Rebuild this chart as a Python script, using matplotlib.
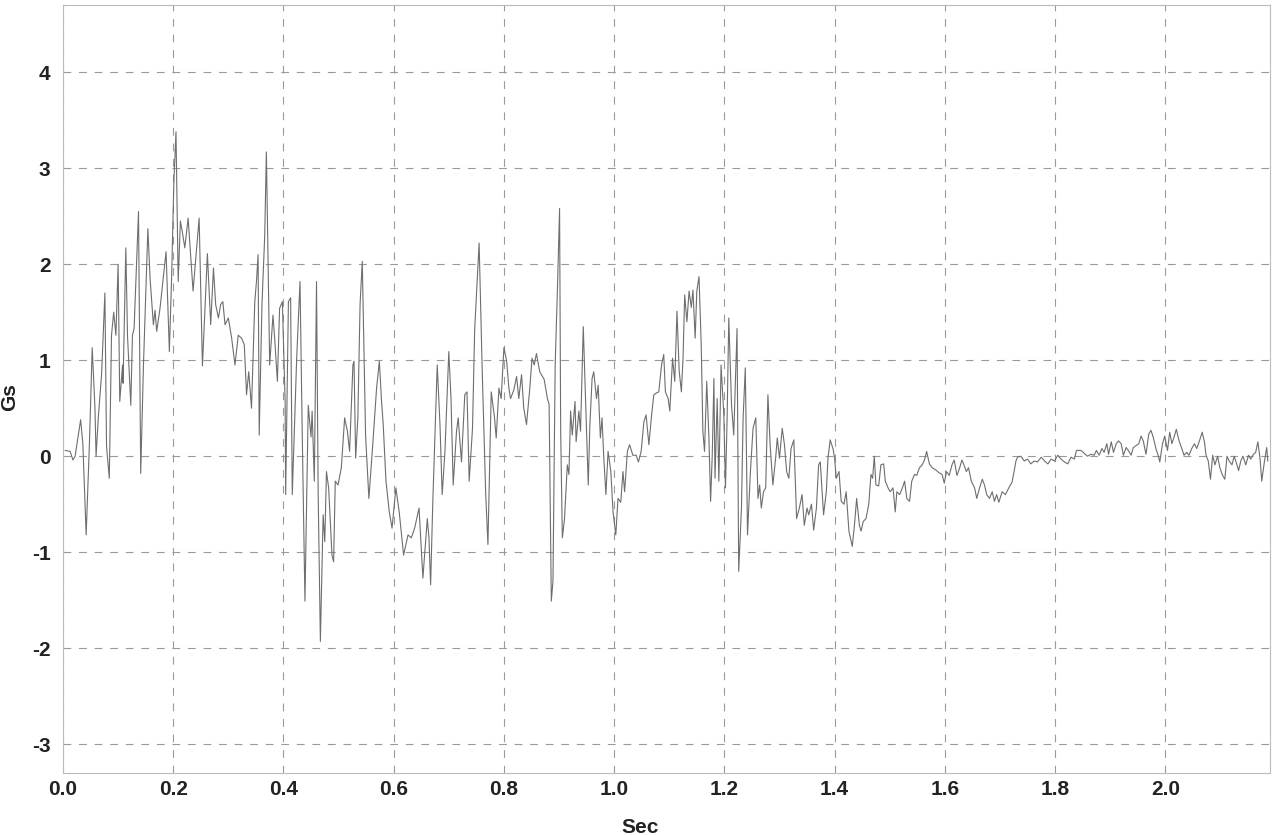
import matplotlib
matplotlib.use("Agg")
import matplotlib.pyplot as plt
import numpy as np

# acceleration trace (time in s, acceleration in Gs)
SEC = [
    0.004, 0.013, 0.018, 0.022, 0.032, 0.036, 0.042, 0.048, 0.053, 0.058,
    0.060, 0.064, 0.070, 0.076, 0.079, 0.084, 0.088, 0.092, 0.096, 0.100,
    0.103, 0.108, 0.109, 0.114, 0.117, 0.123, 0.126, 0.129, 0.137, 0.141,
    0.146, 0.154, 0.158, 0.164, 0.167, 0.170, 0.176, 0.187, 0.193, 0.197,
    0.201, 0.205, 0.209, 0.213, 0.217, 0.221, 0.227, 0.236, 0.241, 0.247,
    0.253, 0.262,
    0.268, 0.273, 0.277, 0.282, 0.286, 0.290, 0.294, 0.300, 0.306, 0.312,
    0.318, 0.324, 0.329, 0.333, 0.337, 0.342, 0.348, 0.351, 0.354, 0.356,
    0.361, 0.366, 0.369, 0.372, 0.375, 0.381, 0.384, 0.389, 0.393, 0.398,
    0.403, 0.404, 0.409, 0.413, 0.416, 0.424, 0.430, 0.434, 0.439, 0.445,
    0.450, 0.452, 0.456, 0.460, 0.463, 0.467, 0.472, 0.475, 0.478, 0.482,
    0.488, 0.491, 0.494, 0.499, 0.505, 0.511, 0.516, 0.520, 0.526,
    0.528, 0.531, 0.535, 0.539, 0.543, 0.546, 0.549, 0.555, 0.562, 0.569,
    0.574, 0.578, 0.581, 0.586, 0.592, 0.597, 0.604, 0.610, 0.618, 0.626,
    0.632, 0.638, 0.646, 0.653, 0.661, 0.664, 0.667, 0.671, 0.679, 0.684,
    0.688, 0.693, 0.700, 0.704, 0.708, 0.714, 0.717, 0.723, 0.729, 0.733,
    0.737, 0.743, 0.747, 0.755, 0.761, 0.767, 0.771, 0.777, 0.783, 0.786,
    0.791, 0.795, 0.800, 0.805, 0.809,
    0.812, 0.818, 0.823, 0.827, 0.832, 0.836, 0.841, 0.847, 0.851, 0.855,
    0.859, 0.865, 0.873, 0.879, 0.882, 0.886, 0.889, 0.893, 0.897, 0.901,
    0.903, 0.906, 0.910, 0.915, 0.918, 0.921, 0.924, 0.929, 0.931, 0.936,
    0.939, 0.944, 0.948, 0.953, 0.956, 0.960, 0.963, 0.968, 0.971, 0.975,
    0.978, 0.981, 0.985, 0.989, 0.994, 0.998, 1.003, 1.007, 1.012, 1.016,
    1.019, 1.024, 1.028, 1.034, 1.040, 1.044, 1.049, 1.054, 1.058, 1.063,
    1.068, 1.072,
    1.077, 1.081, 1.086, 1.090, 1.093, 1.098, 1.101, 1.106, 1.110, 1.114,
    1.118, 1.122, 1.125, 1.128, 1.132, 1.136, 1.140, 1.143, 1.147, 1.150,
    1.154, 1.158, 1.161, 1.164, 1.168, 1.172, 1.175, 1.178, 1.181, 1.183,
    1.187, 1.190, 1.194, 1.199, 1.202, 1.205, 1.208, 1.213, 1.217, 1.220,
    1.223, 1.226, 1.231, 1.234, 1.238, 1.242, 1.247, 1.252, 1.257, 1.261,
    1.264, 1.267, 1.271, 1.275, 1.279, 1.283, 1.288, 1.293, 1.296, 1.300,
    1.305, 1.309, 1.313, 1.317, 1.321, 1.326, 1.329, 1.331, 1.336, 1.341,
    1.345, 1.350,
    1.353, 1.358, 1.362, 1.367, 1.371, 1.374, 1.380, 1.385, 1.388, 1.392,
    1.397, 1.400, 1.403, 1.408, 1.412, 1.417, 1.421, 1.426, 1.432, 1.436,
    1.440, 1.445, 1.448, 1.452, 1.457, 1.462, 1.466, 1.469, 1.472, 1.475,
    1.480, 1.484, 1.489, 1.492, 1.497, 1.501, 1.506, 1.510, 1.513, 1.518,
    1.523, 1.527, 1.531, 1.536, 1.540, 1.545, 1.549, 1.554, 1.559, 1.563,
    1.567, 1.572, 1.577, 1.583, 1.589, 1.595, 1.599, 1.603, 1.608, 1.613,
    1.617, 1.622, 1.627, 1.631, 1.634, 1.639, 1.643, 1.648, 1.654, 1.658,
    1.663, 1.668, 1.672, 1.676, 1.681, 1.686, 1.690, 1.694, 1.698,
    1.704, 1.710, 1.716, 1.722, 1.726, 1.729, 1.732, 1.738, 1.744, 1.750,
    1.756, 1.762, 1.768, 1.775, 1.781, 1.787, 1.793, 1.799, 1.805, 1.811,
    1.817, 1.823, 1.829, 1.835, 1.839, 1.847, 1.853, 1.859, 1.865, 1.871,
    1.875, 1.880, 1.885, 1.889, 1.894, 1.897, 1.902, 1.906, 1.911, 1.915,
    1.920, 1.924, 1.929, 1.933, 1.938, 1.942, 1.947, 1.952, 1.956, 1.960,
    1.965, 1.970, 1.974, 1.978, 1.983, 1.987, 1.990, 1.995, 1.999, 2.004,
    2.008, 2.012, 2.016, 2.020, 2.025, 2.030, 2.034, 2.039, 2.043, 2.048,
    2.053, 2.057, 2.062, 2.067, 2.071, 2.074, 2.078, 2.082, 2.086, 2.090,
    2.095, 2.099, 2.104, 2.108, 2.112, 2.116, 2.121, 2.125, 2.129, 2.133,
    2.137, 2.141, 2.146, 2.151, 2.155, 2.160, 2.164, 2.168, 2.172, 2.175,
    2.180, 2.184, 2.186,
]
GS = [
    0.06, 0.05, -0.04, 0.00, 0.38, 0.13, -0.82, 0.14, 1.13, 0.50,
    0.00, 0.40, 0.85, 1.70, 0.10, -0.23, 1.26, 1.50, 1.26, 2.00,
    0.57, 0.95, 0.76, 2.17, 1.26, 0.53, 1.26, 1.33, 2.55, -0.18,
    0.95, 2.37, 1.85, 1.37, 1.52, 1.30, 1.54, 2.13, 1.09, 1.85,
    2.83, 3.38, 1.82, 2.45, 2.32, 2.17, 2.48, 1.72, 2.06, 2.48,
    0.94, 2.11,
    1.37, 1.96, 1.58, 1.44, 1.58, 1.61, 1.37, 1.44, 1.23, 0.95,
    1.26, 1.23, 1.16, 0.64, 0.88, 0.50, 1.61, 1.82, 2.10, 0.22,
    1.58, 2.30, 3.17, 2.05, 0.95, 1.47, 1.23, 0.78, 1.54, 1.61,
    0.57, -0.40, 1.61, 1.65, -0.40, 1.02, 1.82, 0.26, -1.51, 0.53,
    0.20, 0.47, -0.26, 1.82, -0.40, -1.93, -0.61, -0.89, -0.16, -0.33,
    -1.03, -1.10, -0.26, -0.30, -0.12, 0.40, 0.26, 0.05, 0.95,
    0.99, -0.02, 0.40, 1.58, 2.03, 1.13, 0.22, -0.44, 0.12, 0.71,
    0.99, 0.57, 0.33, -0.26, -0.58, -0.75, -0.33, -0.58, -1.03, -0.82,
    -0.85, -0.75, -0.54, -1.27, -0.65, -0.85, -1.34, -0.47, 0.95, 0.33,
    -0.40, 0.05, 1.09, 0.60, -0.30, 0.26, 0.40, -0.06, 0.64, 0.67,
    -0.26, 0.29, 1.33, 2.22, 0.81, -0.40, -0.92, 0.67, 0.40, 0.19,
    0.71, 0.60, 1.13, 0.99, 0.71,
    0.60, 0.69, 0.83, 0.60, 0.85, 0.50, 0.33, 0.71, 1.02, 0.95,
    1.07, 0.88, 0.80, 0.60, 0.54, -1.51, -1.30, 0.95, 1.72, 2.58,
    0.26, -0.85, -0.65, -0.09, -0.19, 0.47, 0.22, 0.57, 0.15, 0.47,
    0.26, 1.35, 0.60, -0.30, 0.33, 0.81, 0.88, 0.60, 0.74, 0.19,
    0.40, 0.01, -0.40, 0.05, -0.16, -0.58, -0.82, -0.44, -0.48, -0.16,
    -0.37, 0.05, 0.12, 0.01, 0.01, -0.06, 0.05, 0.36, 0.43, 0.12,
    0.43, 0.64,
    0.66, 0.67, 0.95, 1.06, 0.67, 0.60, 0.47, 1.02, 0.78, 1.51,
    0.89, 0.67, 1.02, 1.68, 1.40, 1.72, 1.55, 1.73, 1.23, 1.72,
    1.87, 1.16, 0.26, 0.05, 0.78, 0.19, -0.47, 0.01, 0.81, -0.23,
    0.60, -0.26, 0.95, 0.43, -0.33, 0.40, 1.44, 0.53, 0.22, 0.78,
    1.33, -1.20, -0.54, 0.40, 0.92, -0.82, -0.19, 0.29, 0.40, -0.44,
    -0.30, -0.54, -0.37, -0.33, 0.64, 0.12, -0.30, -0.02, 0.19, -0.02,
    0.29, 0.12, -0.16, -0.23, 0.08, 0.17, -0.30, -0.65, -0.54, -0.40,
    -0.72, -0.54,
    -0.61, -0.50, -0.77, -0.54, -0.09, -0.06, -0.61, -0.37, -0.02, 0.17,
    0.08, -0.02, -0.23, -0.16, -0.47, -0.50, -0.37, -0.78, -0.94, -0.72,
    -0.44, -0.72, -0.78, -0.68, -0.65, -0.50, -0.19, -0.23, 0.00, -0.30,
    -0.31, -0.09, -0.08, -0.26, -0.33, -0.37, -0.33, -0.58, -0.37, -0.40,
    -0.33, -0.26, -0.44, -0.47, -0.26, -0.19, -0.20, -0.12, -0.09, -0.04,
    0.05, -0.08, -0.12, -0.14, -0.17, -0.19, -0.28, -0.16, -0.20, -0.09,
    -0.04, -0.20, -0.12, -0.04, -0.08, -0.16, -0.12, -0.26, -0.33, -0.44,
    -0.33, -0.24, -0.30, -0.40, -0.44, -0.37, -0.47, -0.40, -0.48,
    -0.37, -0.40, -0.33, -0.27, -0.15, -0.05, -0.01, 0.00, -0.05, -0.03,
    -0.08, -0.05, -0.06, -0.01, -0.05, -0.08, -0.03, -0.05, 0.01, -0.03,
    -0.06, -0.08, -0.01, -0.03, 0.06, 0.06, 0.03, 0.00, 0.02, 0.01,
    0.06, 0.01, 0.08, 0.04, 0.13, 0.02, 0.15, 0.04, 0.13, 0.16,
    0.13, 0.01, 0.09, 0.06, 0.01, 0.09, 0.11, 0.13, 0.21, 0.16,
    0.02, 0.23, 0.27, 0.20, 0.08, 0.01, -0.06, 0.13, 0.21, 0.06,
    0.25, 0.13, 0.20, 0.28, 0.16, 0.08, 0.01, 0.04, 0.01, 0.08,
    0.13, 0.08, 0.16, 0.25, 0.15, 0.01, -0.05, -0.24, 0.01, -0.09,
    0.00, -0.12, -0.20, -0.24, 0.00, -0.05, -0.09, 0.00, -0.07, -0.15,
    -0.05, 0.00, -0.09, 0.01, -0.03, 0.02, 0.04, 0.15, -0.03, -0.26,
    -0.05, 0.09, -0.05,
]
X_TICKS = [0.0, 0.2, 0.4, 0.6, 0.8, 1.0, 1.2, 1.4, 1.6, 1.8, 2.0]
Y_TICKS = [-3, -2, -1, 0, 1, 2, 3, 4]


def main():
    plt.rcParams["font.family"] = ["Liberation Sans", "DejaVu Sans"]

    fig = plt.figure(figsize=(12.74, 8.35), dpi=100)
    ax = fig.add_axes([63 / 1274, 62 / 835, 1207 / 1274, 768 / 835])

    ax.plot(SEC, GS, color="#6e6e6e", linewidth=0.8)

    ax.set_xlim(0, 2.19)
    ax.set_ylim(-3.3, 4.7)
    ax.set_xticks(X_TICKS)
    ax.set_xticklabels([f"{v:.1f}" for v in X_TICKS])
    ax.set_yticks(Y_TICKS)
    ax.set_yticklabels([str(v) for v in Y_TICKS])
    ax.tick_params(axis="x", length=0, labelsize=15, pad=5)
    ax.tick_params(axis="y", length=0, labelsize=15, pad=9)
    for lbl in ax.get_xticklabels() + ax.get_yticklabels():
        lbl.set_fontweight("bold")
        lbl.set_color("#222222")

    ax.grid(True, color="#9a9a9a", linestyle=(0, (7, 7)), linewidth=0.8)
    for side in ax.spines.values():
        side.set_color("#bbbbbb")
        side.set_linewidth(0.8)

    ax.set_xlabel("Sec", fontsize=15, fontweight="bold", color="#222222")
    ax.set_ylabel("Gs", fontsize=15, fontweight="bold", color="#222222")
    ax.xaxis.set_label_coords(0.478, -0.058)
    ax.yaxis.set_label_coords(-0.036, 0.49)

    fig.savefig("out.png", dpi=100)


if __name__ == "__main__":
    main()
